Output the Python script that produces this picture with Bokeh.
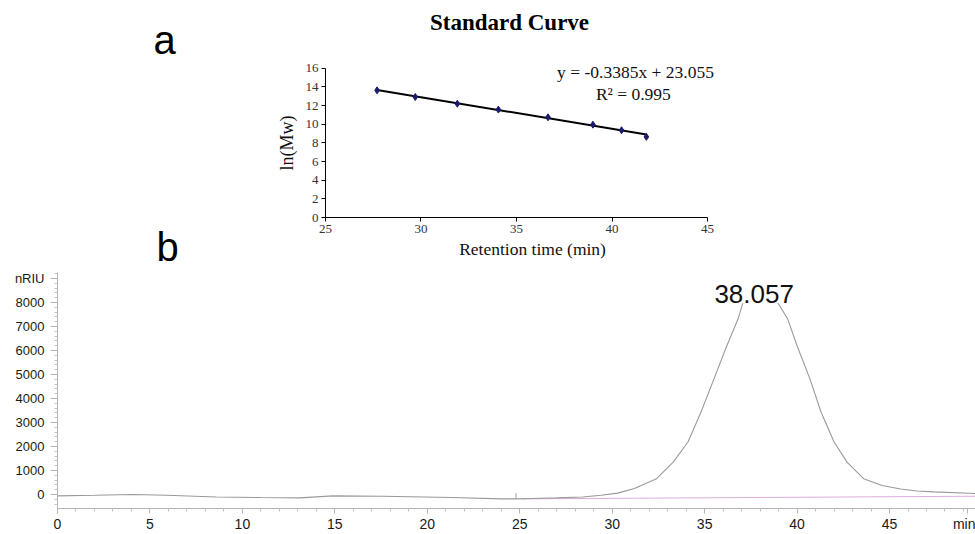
from bokeh.plotting import figure
from bokeh.models import FixedTicker, Label, Range1d, LinearAxis
from bokeh.embed import file_html
from bokeh.resources import INLINE

# ---- standard curve data (inset a) ----
std_time = [27.7, 29.7, 31.9, 34.05, 36.65, 39.0, 40.5, 41.8]
std_lnmw = [13.63, 12.92, 12.2, 11.57, 10.75, 9.96, 9.36, 8.65]
fit_slope = -0.3385
fit_intercept = 23.055
fit_r2 = 0.995
inset_xticks = [25, 30, 35, 40, 45]
inset_yticks = [0, 2, 4, 6, 8, 10, 12, 14, 16]

# ---- chromatogram data (b) ----
rt = [0, 2, 4.1, 5.9, 8.6, 11, 13.1, 14.9, 17.6, 21.3, 24.0, 24.8, 25.7, 27.0, 28.4,
      29.4, 30.3, 31.2, 32.4, 33.3, 34.1, 34.8, 35.5, 36.2, 36.8, 37.1, 37.5, 38.0,
      38.5, 38.9, 39.5, 40.0, 40.7, 41.3, 42.0, 42.7, 43.6, 44.6, 45.6, 46.5, 47.4, 49.65]
signal = [-55, -30, 0, -30, -100, -125, -140, -55, -70, -125, -180, -180, -165, -140, -100,
          -30, 60, 250, 660, 1350, 2190, 3430, 4810, 6200, 7300, 8060, 8300, 8400,
          8300, 8060, 7300, 6200, 4810, 3430, 2190, 1350, 660, 380, 230, 150, 110, 40]
baseline_x = [25.1, 49.65]
baseline_y = [-180, -70]
event_x = [24.8]
peak_rt = 38.057
peak_label_y = 8340
chrom_xticks = [0, 5, 10, 15, 20, 25, 30, 35, 40, 45, 49.2]
chrom_xlabels = {49.2: "min"}
chrom_yticks = [0, 1000, 2000, 3000, 4000, 5000, 6000, 7000, 8000, 9000]
chrom_ylabels = {9000: "nRIU"}

SERIF = "Liberation Serif"
SANS = "Liberation Sans"

# One canvas; the chromatogram uses the main ranges, the standard curve inset
# uses extra ranges with axes pinned at fixed locations inside the frame.
p = figure(width=975, height=534, x_range=Range1d(0, 49.65), y_range=Range1d(-581, 20581),
           output_backend="svg", toolbar_location=None,
           min_border_left=57, min_border_right=0, min_border_top=0, min_border_bottom=24)
p.extra_x_ranges = {"inset_x": Range1d(10.969, 59.031)}
p.extra_y_ranges = {"inset_y": Range1d(-31.147, 23.253)}
p.outline_line_color = None
p.xgrid.visible = False
p.ygrid.visible = False

# ---- chromatogram axes ----
p.xaxis.ticker = FixedTicker(ticks=chrom_xticks,
                             minor_ticks=[t for t in range(0, 50) if t % 5 != 0])
p.yaxis.ticker = FixedTicker(ticks=chrom_yticks,
                             minor_ticks=[t for t in range(-400, 9400, 200) if t % 1000 != 0])
p.yaxis.bounds = (-581, 9253)
p.xaxis.major_label_overrides = chrom_xlabels
p.yaxis.major_label_overrides = chrom_ylabels
for ax in (p.xaxis[0], p.yaxis[0]):
    ax.axis_line_color = "#b4b4b4"
    ax.major_tick_line_color = "#b4b4b4"
    ax.minor_tick_line_color = "#c4c4c4"
    ax.major_tick_in = 0
    ax.minor_tick_in = 0
    ax.minor_tick_out = 3
    ax.major_label_text_font = SANS
    ax.major_label_text_color = "#1a1a1a"
p.xaxis.major_tick_out = 5
p.xaxis.major_label_text_font_size = "14px"
p.xaxis.major_label_standoff = 2
p.yaxis.major_tick_out = 7
p.yaxis.major_label_text_font_size = "13px"
p.yaxis.major_label_standoff = 6

p.line(baseline_x, baseline_y, line_color="#dcaede", line_width=1)
p.line(rt, signal, line_color="#9a9a9a", line_width=1.1)
p.segment(x0=event_x, y0=[-180], x1=event_x, y1=[60], line_color="#a0a0a0", line_width=1)
p.add_layout(Label(x=peak_rt, y=peak_label_y, x_offset=-7, text="%.3f" % peak_rt,
                   text_align="center", text_baseline="alphabetic",
                   text_font=SANS, text_font_size="26px", text_color="#111111",
                   background_fill_color="white"))

# ---- inset axes (standard curve) ----
iy = LinearAxis(x_range_name="inset_x", y_range_name="inset_y", fixed_location=25,
                bounds=(0, 16), ticker=FixedTicker(ticks=inset_yticks),
                axis_label="ln(Mw)")
ix = LinearAxis(x_range_name="inset_x", y_range_name="inset_y", fixed_location=0,
                bounds=(25, 45), ticker=FixedTicker(ticks=inset_xticks))
for ax in (ix, iy):
    ax.axis_line_color = "black"
    ax.axis_line_width = 1
    ax.major_tick_line_color = "black"
    ax.major_tick_in = 0
    ax.major_tick_out = 4
    ax.minor_tick_line_color = None
    ax.major_label_text_font = SERIF
    ax.major_label_text_font_size = "13px"
    ax.major_label_text_color = "#333333"
    ax.axis_label_text_font = SERIF
    ax.axis_label_text_font_style = "normal"
    ax.axis_label_text_color = "#111111"
ix.major_label_standoff = 3
iy.axis_label_text_font_size = "18px"
iy.axis_label_standoff = 6
iy.major_label_standoff = 3
p.add_layout(iy, "left")
p.add_layout(ix, "below")

fit_x = [std_time[0], std_time[-1]]
fit_y = [fit_slope * x + fit_intercept for x in fit_x]
p.line(fit_x, fit_y, line_color="black", line_width=2,
       x_range_name="inset_x", y_range_name="inset_y")
p.scatter(std_time, std_lnmw, marker="diamond", size=7, color="#1b1b6b",
          x_range_name="inset_x", y_range_name="inset_y")

p.add_layout(Label(x=35.84, y=-3.41, x_range_name="inset_x", y_range_name="inset_y",
                   text="Retention time (min)",
                   text_align="center", text_baseline="alphabetic",
                   text_font=SERIF, text_font_size="17.5px", text_color="#111111"))
p.add_layout(Label(x=41.23, y=15.55, x_range_name="inset_x", y_range_name="inset_y",
                   text="y = %.4fx + %.3f" % (fit_slope, fit_intercept),
                   text_align="center", text_baseline="alphabetic",
                   text_font=SERIF, text_font_size="17.5px", text_color="#111111"))
p.add_layout(Label(x=41.12, y=13.22, x_range_name="inset_x", y_range_name="inset_y",
                   text="R\u00b2 = %.3f" % fit_r2,
                   text_align="center", text_baseline="alphabetic",
                   text_font=SERIF, text_font_size="17.5px", text_color="#111111"))

# ---- panel letters and inset title (screen units, relative to the frame) ----
p.add_layout(Label(x=452, y=486, x_units="screen", y_units="screen", text="Standard Curve",
                   text_align="center", text_baseline="alphabetic",
                   text_font=SERIF, text_font_style="bold", text_font_size="23px",
                   text_color="black"))
p.add_layout(Label(x=96, y=469, x_units="screen", y_units="screen", text="a",
                   text_align="left", text_baseline="alphabetic",
                   text_font=SANS, text_font_size="40px", text_color="black"))
p.add_layout(Label(x=99, y=262, x_units="screen", y_units="screen", text="b",
                   text_align="left", text_baseline="alphabetic",
                   text_font=SANS, text_font_size="40px", text_color="black"))

open("out.html", "w").write(file_html(p, INLINE))
